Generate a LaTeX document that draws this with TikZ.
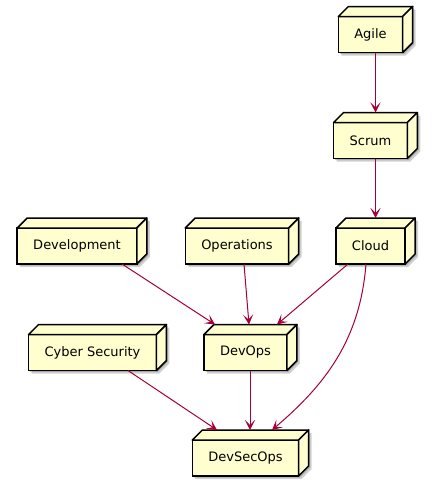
\documentclass[tikz,border=0pt]{standalone}
\usepackage{fontspec}
\setmainfont{DejaVu Sans}
\usetikzlibrary{arrows.meta,calc,backgrounds}
\definecolor{nodefill}{HTML}{FEFECE}
\definecolor{arrowred}{HTML}{A80036}
\tikzset{
  front/.style={draw=black, fill=nodefill, line width=1.5pt, outer sep=0pt,
    inner xsep=16pt, minimum height=36pt, font=\fontsize{13}{15}\selectfont, line join=miter},
  face/.style={draw=black, fill=nodefill, line width=1.5pt, line join=round},
  shade3d/.style={fill=black, opacity=0.18},
  arr/.style={draw=arrowred, line width=1pt, -{Stealth[length=10pt,width=10pt,inset=5pt]}}
}
\newcommand{\cubeparts}[1]{%
  \begin{pgfonlayer}{background}
    \fill[shade3d] ([shift={(3,3)}]#1.south west) -- ([shift={(3,3)}]#1.north west)
      -- ([shift={(13,-7)}]#1.north west) -- ([shift={(13,-7)}]#1.north east)
      -- ([shift={(13,-7)}]#1.south east) -- ([shift={(3,3)}]#1.south east) -- cycle;
    \fill[shade3d] ([shift={(1.5,1.5)}]#1.south west) -- ([shift={(1.5,1.5)}]#1.north west)
      -- ([shift={(11.5,-8.5)}]#1.north west) -- ([shift={(11.5,-8.5)}]#1.north east)
      -- ([shift={(11.5,-8.5)}]#1.south east) -- ([shift={(1.5,1.5)}]#1.south east) -- cycle;
  \end{pgfonlayer}
  \draw[face] (#1.north west) -- ([shift={(10,-10)}]#1.north west)
    -- ([shift={(10,-10)}]#1.north east) -- (#1.north east) -- cycle;
  \draw[face] (#1.north east) -- ([shift={(10,-10)}]#1.north east)
    -- ([shift={(10,-10)}]#1.south east) -- (#1.south east) -- cycle;
}
\begin{document}
\begin{tikzpicture}[x=1pt,y=-1pt]
\useasboundingbox (0,0) rectangle (433,482);
\node[front] (agile) at (370.5,34.5) {Agile};
\node[front] (scrum) at (370.5,140.5) {Scrum};
\node[front] (cloud) at (370.5,246) {Cloud};
\node[front] (devel) at (77,246) {Development};
\node[front] (ops) at (237,246) {Operations};
\node[front] (devops) at (245.5,352.5) {DevOps};
\node[front] (cyber) at (92.5,352.5) {Cyber Security};
\node[front] (dso) at (245.5,458) {DevSecOps};
\cubeparts{agile}
\cubeparts{scrum}
\cubeparts{cloud}
\cubeparts{devel}
\cubeparts{ops}
\cubeparts{devops}
\cubeparts{cyber}
\cubeparts{dso}
\draw[arr] ([xshift=5pt]agile.south) -- ([shift={(5,-10)}]scrum.north);
\draw[arr] ([xshift=5pt]scrum.south) -- ([shift={(5,-10)}]cloud.north);
\draw[arr] ([xshift=45pt]devel.south) -- ([shift={(-30.5,-10)}]devops.north);
\draw[arr] ([xshift=7pt]ops.south) -- ([shift={(3.5,-10)}]devops.north);
\draw[arr] ([xshift=-22.5pt]cloud.south) -- ([shift={(31.5,-10)}]devops.north);
\draw[arr] ([xshift=-4.5pt]cloud.south) .. controls (360,340) and (325,385) .. ([shift={(26.5,-10)}]dso.north);
\draw[arr] ([xshift=35.5pt]cyber.south) -- ([shift={(-28.5,-10)}]dso.north);
\draw[arr] ([xshift=4.5pt]devops.south) -- ([shift={(4.5,-10)}]dso.north);
\end{tikzpicture}
\end{document}
